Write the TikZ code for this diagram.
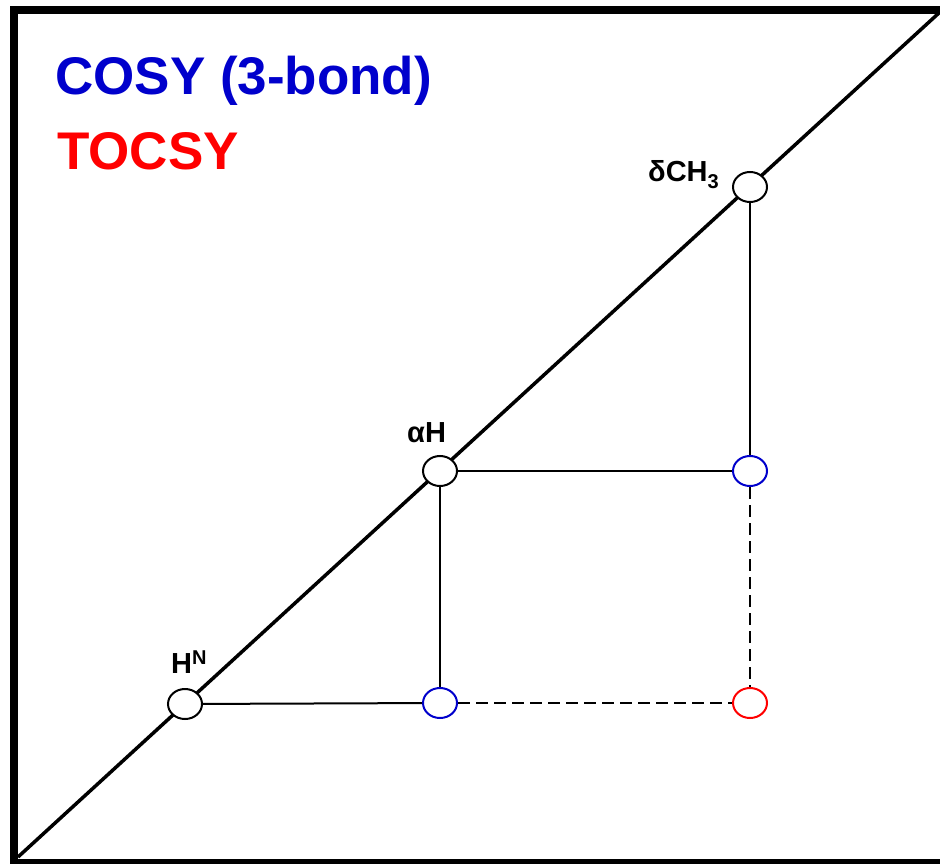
\documentclass[tikz,border=0pt]{standalone}
\usepackage{fontspec}
\setmainfont{Liberation Sans}
\usetikzlibrary{shapes.geometric}
\definecolor{cosyblue}{HTML}{0000CC}
\definecolor{tocsyred}{HTML}{FF0000}
\begin{document}
\begin{tikzpicture}[x=1pt,y=-1pt,
  peak/.style={ellipse,draw,line width=2pt,fill=white,minimum width=34pt,minimum height=30pt,inner sep=0pt},
  link/.style={line width=2pt},
  tlink/.style={line width=2pt,dash pattern=on 12pt off 6pt},
  lab/.style={font=\fontsize{29}{32}\selectfont\bfseries,inner sep=0pt,anchor=base west},
  title/.style={font=\fontsize{53}{60}\selectfont\bfseries,inner sep=0pt,anchor=base west}]
\useasboundingbox (0,0) rectangle (940,864);
\begin{scope}
\clip (0,0) rectangle (940,864);
\draw[line width=8pt] (14,1000) -- (14,10) -- (1100,10) (14,10) -- (14,863) -- (1100,863);
\end{scope}
\coordinate (lo) at (18,857);
\coordinate (hi) at (940,12);
\draw[line width=3.5pt] (lo) -- (hi);
% peaks
\node[peak] (hn) at (185,704) {};
\node[peak] (ah) at (440,471) {};
\node[peak] (dm) at (750,187) {};
\node[peak,draw=cosyblue] (c1) at (440,703) {};
\node[peak,draw=cosyblue] (c2) at (750,471) {};
\node[peak,draw=tocsyred] (t1) at (750,703) {};
% connectors
\draw[link] (hn) -- (c1);
\draw[link] (ah) -- (c1);
\draw[link] (ah) -- (c2);
\draw[link] (dm) -- (c2);
\draw[tlink] (c1) -- (t1);
\draw[tlink] (c2) -- (t1);
% labels
\node[lab] (lhn) at (171,673) {H\raisebox{9pt}{\fontsize{20}{20}\selectfont N}};
\node[lab] (lah) at (407,442) {αH};
\node[lab] (ldm) at (648,182) {δCH\raisebox{-6pt}{\fontsize{20}{20}\selectfont 3}};
% titles
\node[title,text=cosyblue] (tc) at (55,95) {COSY (3-bond)};
\node[title,text=tocsyred] (tt) at (57,170) {TOCSY};
\end{tikzpicture}
\end{document}
